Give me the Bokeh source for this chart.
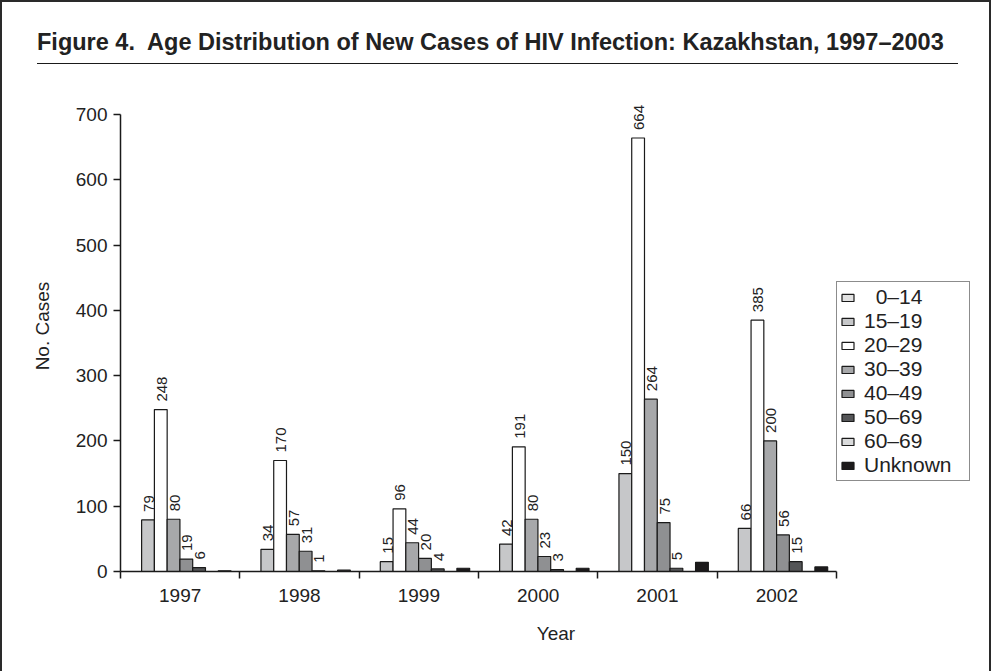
import math
from bokeh.plotting import figure
from bokeh.layouts import column
from bokeh.models import (ColumnDataSource, Range1d, FixedTicker, Legend, LegendItem, Div)
from bokeh.core.properties import value
from bokeh.embed import file_html
from bokeh.resources import INLINE

# ---------------- data ----------------
years = ["1997", "1998", "1999", "2000", "2001", "2002"]
age_groups = ["\u20070–14", "15–19", "20–29", "30–39", "40–49", "50–69", "60–69", "Unknown"]
cases_0_14 = [0, 0, 0, 0, 0, 0]
cases_15_19 = [79, 34, 15, 42, 150, 66]
cases_20_29 = [248, 170, 96, 191, 664, 385]
cases_30_39 = [80, 57, 44, 80, 264, 200]
cases_40_49 = [19, 31, 20, 23, 75, 56]
cases_50_69 = [6, 1, 4, 3, 5, 15]
cases_60_69 = [0, 0, 0, 0, 0, 0]
cases_unknown = [1, 2, 5, 5, 14, 7]
labeled_groups = ["15–19", "20–29", "30–39", "40–49", "50–69"]
y_ticks = [0, 100, 200, 300, 400, 500, 600, 700]

title_text = "Figure 4.  Age Distribution of New Cases of HIV Infection: Kazakhstan, 1997–2003"

series = [cases_0_14, cases_15_19, cases_20_29, cases_30_39,
          cases_40_49, cases_50_69, cases_60_69, cases_unknown]
colors = ["#e2e2e2", "#c6c7c9", "#ffffff", "#a7a8aa", "#8f9092", "#545557", "#dadbdc", "#1c1a1b"]

FONT = "Liberation Sans"
TXT = "#222222"
W = 991
HDR_H = 80
CH_H = 671 - HDR_H

# ---------------- header (title + rule) ----------------
hdr = Div(width=W, height=HDR_H, margin=0,
          text=('<div style="margin:0 0 0 37px; width:921px; padding:29px 0 8px 0; '
                'border-bottom:1.5px solid #1a1a1a; font-family:\'Liberation Sans\', Arial, sans-serif; '
                'font-weight:bold; font-size:23.5px; line-height:26px; color:#222222; '
                'white-space:pre;">' + title_text + '</div>'))

# ---------------- chart ----------------
left_b, bottom_b = 120, 100
frame_w = W - left_b
frame_h = CH_H - bottom_b
px_per_group = 716 / 6
px_per_case = 457 / 700
p = figure(width=W, height=CH_H,
           x_range=Range1d(0, frame_w / px_per_group),
           y_range=Range1d(0, frame_h / px_per_case),
           output_backend="svg", toolbar_location=None,
           min_border_left=left_b, min_border_right=0, min_border_top=0,
           min_border_bottom=bottom_b)
p.grid.visible = False
p.outline_line_color = None
p.background_fill_alpha = 0
p.border_fill_alpha = 0

bar_w = 0.107
offset0 = 0.07
legend_items = []
for k, (name, vals, col) in enumerate(zip(age_groups, series, colors)):
    xs = [i + offset0 + (k + 0.5) * bar_w for i in range(len(years))]
    src = ColumnDataSource(dict(x=xs, top=vals, lab=[str(v) for v in vals]))
    r = p.vbar(x="x", top="top", bottom=0, width=bar_w, source=src,
               fill_color=col, line_color="#1a1a1a", line_width=1.2)
    legend_items.append(LegendItem(label=name, renderers=[r]))
    if name in labeled_groups:
        p.text(x="x", y="top", text="lab", source=src, angle=math.pi / 2,
               text_align="left", text_baseline="middle", y_offset=-8, x_offset=1,
               text_font=value(FONT), text_font_size="15px", text_color=TXT)

xa = p.xaxis[0]
xa.bounds = (0, len(years))
xa.ticker = FixedTicker(ticks=[i + 0.5 for i in range(len(years))],
                        minor_ticks=list(range(len(years) + 1)))
xa.major_label_overrides = {i + 0.5: y for i, y in enumerate(years)}
xa.major_tick_out = 0
xa.major_tick_in = 0
xa.minor_tick_out = 7
xa.minor_tick_in = 0
xa.minor_tick_line_color = "#1a1a1a"
xa.minor_tick_line_width = 1.5
xa.axis_line_color = "#1a1a1a"
xa.axis_line_width = 1.5
xa.major_label_standoff = 10
xa.major_label_text_font = FONT
xa.major_label_text_font_size = "19px"
xa.major_label_text_color = TXT
xa.axis_label = "Year"
xa.axis_label_text_font = FONT
xa.axis_label_text_font_size = "19px"
xa.axis_label_text_font_style = "normal"
xa.axis_label_text_color = TXT
xa.axis_label_standoff = 18

ya = p.yaxis[0]
ya.bounds = (0, 700)
ya.ticker = FixedTicker(ticks=y_ticks, minor_ticks=[])
ya.major_tick_out = 7
ya.major_tick_in = 0
ya.major_tick_line_color = "#1a1a1a"
ya.major_tick_line_width = 1.5
ya.axis_line_color = "#1a1a1a"
ya.axis_line_width = 1.5
ya.major_label_standoff = 6
ya.major_label_text_font = FONT
ya.major_label_text_font_size = "19px"
ya.major_label_text_color = TXT
ya.axis_label = "No. Cases"
ya.axis_label_text_font = FONT
ya.axis_label_text_font_size = "19px"
ya.axis_label_text_font_style = "normal"
ya.axis_label_text_color = TXT
ya.axis_label_standoff = 20

legend = Legend(items=legend_items, location=(716, 90), orientation="vertical",
                label_text_font=FONT, label_text_font_size="21px", label_text_color=TXT,
                glyph_width=15, glyph_height=9, label_standoff=9, label_height=22,
                label_width=102, spacing=0, padding=3, margin=0,
                border_line_color="#1a1a1a", border_line_width=1.2,
                background_fill_color="white", background_fill_alpha=1)
p.add_layout(legend, "center")

page = column(hdr, p, spacing=0,
              styles={"box-shadow": "inset 2px 2px 0 #2a2a2a, inset -2px 0 0 #2a2a2a"})

open("out.html", "w").write(file_html(page, INLINE))
